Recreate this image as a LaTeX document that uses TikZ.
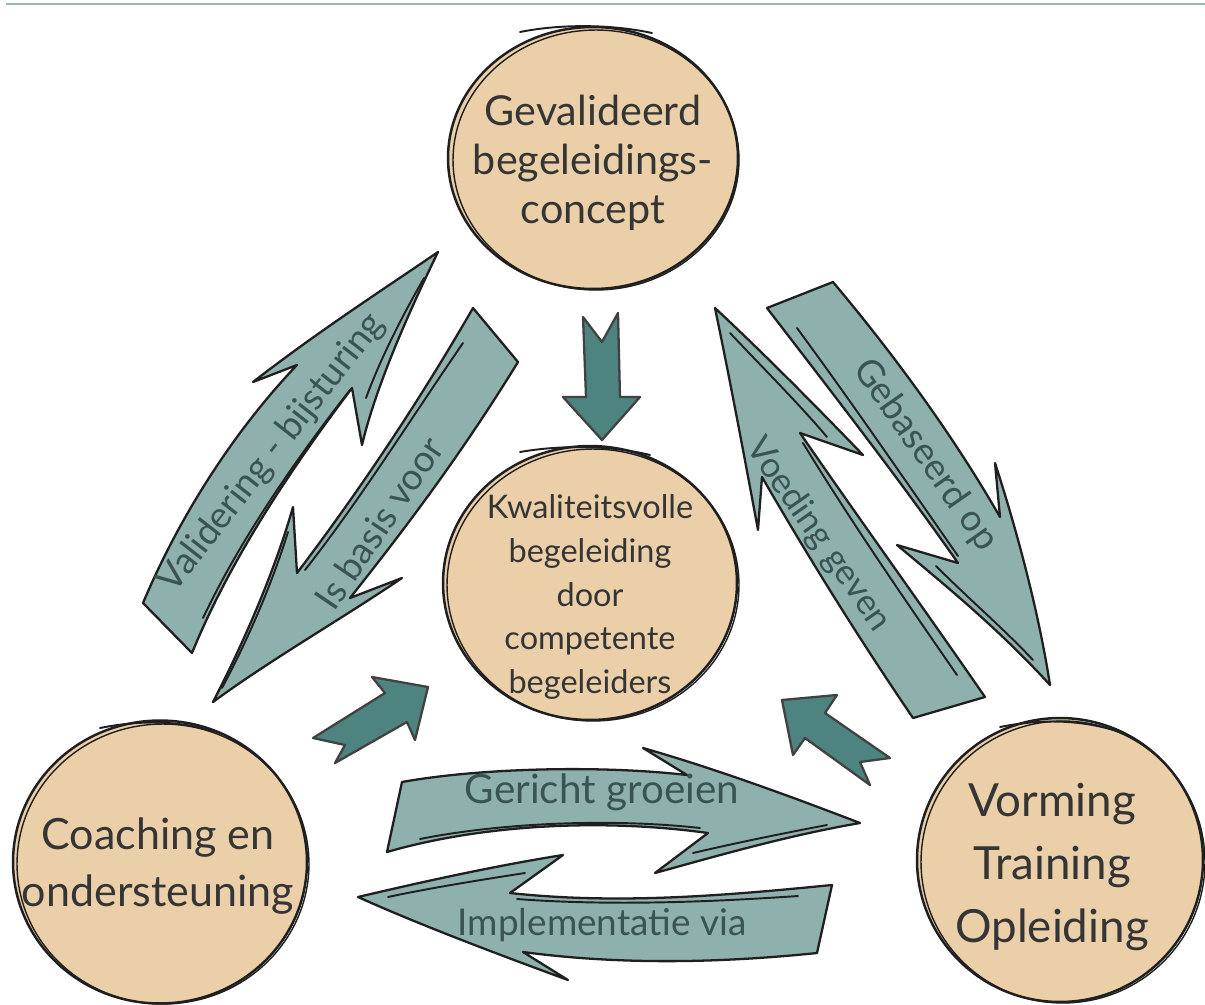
\documentclass[tikz,border=0pt]{standalone}
\usepackage{fontspec}
\setmainfont{Lato}
\usetikzlibrary{shapes.geometric}
\definecolor{circfill}{HTML}{EBCFA8}
\definecolor{arrowfill}{HTML}{8FB1AD}
\definecolor{darkarrow}{HTML}{4E8480}
\definecolor{inkc}{HTML}{1F1F1F}
\definecolor{txtc}{HTML}{353535}
\definecolor{arrtxt}{HTML}{3A5452}
\definecolor{toplinec}{HTML}{9CB7B2}
\tikzset{
  bubble/.style={ellipse, fill=circfill, draw=inkc, line width=1.4pt, inner sep=0pt},
  bubbleline/.style={draw=inkc, line width=0.8pt},
  circtext/.style={text=txtc, align=center, inner sep=0pt},
  bigarrow/.style={fill=arrowfill, draw=inkc, line width=1.3pt, line join=round},
  smallarrow/.style={fill=darkarrow, draw=inkc!85, line width=1.3pt, line join=round},
  sketchline/.style={draw=inkc, line width=1.1pt, line cap=round},
  alabel/.style={text=arrtxt, inner sep=0pt},
}
\begin{document}
\begin{tikzpicture}[x=0.02cm,y=-0.02cm]
\useasboundingbox (0,0) rectangle (1205,1005);
\fill[white] (0,0) rectangle (1205,1005);
\coordinate (lineL) at (6,4);
\coordinate (lineR) at (1205,4);
\draw[toplinec, line width=1.2pt] (lineL) -- (lineR);

% ---------- big arrows ----------
% Validering - bijsturing (up-right)
\path[bigarrow] (143,603) .. controls (180,515) and (235,430) .. (297,365) -- (253,382)
  .. controls (320,330) and (390,285) .. (438,252)
  .. controls (405,320) and (375,390) .. (362,445) -- (352,388)
  .. controls (290,470) and (230,560) .. (192,653) -- cycle;
\draw[sketchline] (203,618) .. controls (240,540) and (295,460) .. (350,390);
\draw[sketchline] (424,278) .. controls (400,320) and (380,360) .. (366,398);
% Is basis voor (down-left)
\path[bigarrow] (473,308) -- (518,362) .. controls (470,440) and (420,510) .. (350,598)
  -- (402,578) .. controls (340,620) and (270,660) .. (213,702)
  .. controls (245,640) and (275,570) .. (293,507) -- (297,573)
  .. controls (360,490) and (420,400) .. (473,308) -- cycle;
\draw[sketchline] (463,343) .. controls (410,420) and (360,500) .. (305,570);
\draw[sketchline] (288,532) .. controls (270,590) and (245,645) .. (222,688);
% Voeding geven (up-left)
\path[bigarrow] (715,308) .. controls (730,380) and (745,460) .. (758,530) -- (762,477)
  .. controls (810,560) and (860,640) .. (913,718) -- (985,697)
  .. controls (925,610) and (860,520) .. (800,433) -- (863,455)
  .. controls (810,400) and (760,350) .. (715,308) -- cycle;
\draw[sketchline] (803,443) .. controls (850,520) and (905,600) .. (957,675);
\draw[sketchline] (730,333) .. controls (765,370) and (800,405) .. (827,437);
% Gebaseerd op (down-right)
\path[bigarrow] (767,308) -- (833,282) .. controls (890,350) and (950,430) .. (1000,517)
  -- (995,463) .. controls (1020,540) and (1040,620) .. (1050,685)
  .. controls (1000,630) and (945,585) .. (897,545) -- (958,563)
  .. controls (900,480) and (830,390) .. (767,308) -- cycle;
\draw[sketchline] (797,328) .. controls (850,400) and (905,480) .. (958,556);
\draw[sketchline] (936,566) .. controls (970,600) and (1005,630) .. (1033,660);
% Gericht groeien (right)
\path[bigarrow] (402,782) .. controls (480,768) and (600,765) .. (687,775) -- (643,748)
  .. controls (720,770) and (800,800) .. (860,823)
  .. controls (790,835) and (720,855) .. (655,873) -- (708,833)
  .. controls (600,818) and (480,825) .. (387,852) -- cycle;
\draw[sketchline] (420,839) .. controls (500,823) and (610,818) .. (700,828);
\draw[sketchline] (693,853) .. controls (740,842) and (790,832) .. (827,825);
% Implementatie via (left)
\path[bigarrow] (358,897) .. controls (430,880) and (500,865) .. (563,855) -- (510,893)
  .. controls (620,905) and (730,895) .. (832,885) -- (817,953)
  .. controls (720,963) and (620,965) .. (523,952) -- (568,980)
  .. controls (500,955) and (420,925) .. (358,897) -- cycle;
\draw[sketchline] (517,899) .. controls (610,906) and (710,902) .. (798,896);
\draw[sketchline] (388,897) .. controls (430,888) and (480,880) .. (525,873);

% arrow labels
\node[alabel, rotate=52, font=\fontsize{21}{25}\selectfont] (lblA) at (272,453) {Validering - bijsturing};
\node[alabel, rotate=56, font=\fontsize{21}{25}\selectfont] (lblB) at (379,523) {Is basis voor};
\node[alabel, rotate=-55, font=\fontsize{20}{24}\selectfont] (lblC) at (818,535) {Voeding geven};
\node[alabel, rotate=-55, font=\fontsize{21}{25}\selectfont] (lblD) at (925,455) {Gebaseerd op};
\node[alabel, font=\fontsize{23}{27}\selectfont] (lblE) at (602,792) {Gericht groeien};
\node[alabel, font=\fontsize{21}{25}\selectfont] (lblF) at (602,925) {Implementatie via};

% ---------- small arrows ----------
\path[smallarrow] (583,317) -- (602,342) -- (618,313) -- (620,397) -- (640,397)
  -- (602,440) -- (563,397) -- (586,397) -- cycle;
\path[smallarrow] (313,738) -- (385,693) -- (372,677) -- (428,687) -- (415,740)
  -- (407,722) -- (335,763) -- (345,745) -- cycle;
\path[smallarrow] (782,700) -- (837,695) -- (825,713) -- (890,758) -- (860,762)
  -- (870,785) -- (805,738) -- (793,755) -- cycle;

% ---------- circles ----------
\node[bubble, minimum width=5.8cm, minimum height=5.24cm] (concept) at (593,158) {};
\draw[bubbleline] (596,160) ellipse [x radius=2.86cm, y radius=2.6cm];
\draw[sketchline] (520,32) .. controls (560,24) and (610,24) .. (652,33);
\node[circtext, font=\fontsize{23.5}{28}\selectfont] (conceptText) at (593,163) {Gevalideerd\\begeleidings-\\concept};

\node[bubble, minimum width=5.88cm, minimum height=5.48cm] (quality) at (590,583) {};
\draw[bubbleline] (593,585) ellipse [x radius=2.92cm, y radius=2.72cm];
\draw[sketchline] (520,452) .. controls (560,445) and (610,445) .. (650,455);
\node[circtext, font=\fontsize{18.5}{25}\selectfont] (qualityText) at (590,597) {Kwaliteitsvolle\\begeleiding\\door\\competente\\begeleiders};

\node[bubble, minimum width=5.88cm, minimum height=5.66cm] (coach) at (160,862) {};
\draw[bubbleline] (163,864) ellipse [x radius=2.92cm, y radius=2.8cm];
\draw[sketchline] (100,728) .. controls (140,720) and (180,720) .. (220,733);
\node[circtext, font=\fontsize{24.5}{32}\selectfont] (coachText) at (158,866) {Coaching en\\ondersteuning};

\node[bubble, minimum width=5.72cm, minimum height=5.68cm] (vorming) at (1060,860) {};
\draw[bubbleline] (1063,862) ellipse [x radius=2.84cm, y radius=2.82cm];
\draw[sketchline] (1000,727) .. controls (1040,719) and (1080,719) .. (1120,732);
\node[circtext, font=\fontsize{26}{36}\selectfont] (vormingText) at (1052,867) {Vorming\\Training\\Opleiding};
\end{tikzpicture}
\end{document}
